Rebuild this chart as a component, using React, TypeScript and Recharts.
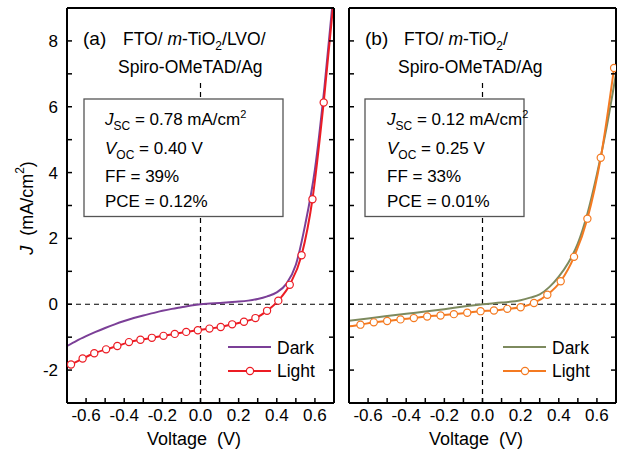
import React from 'react';
import { LineChart, Line, XAxis, YAxis, ReferenceLine } from 'recharts';

// ---------- data ----------
const darkA_V = [-0.70, -0.65, -0.60, -0.55, -0.50, -0.45, -0.40, -0.35, -0.30, -0.25, -0.20, -0.15, -0.10, -0.05, 0.00, 0.05, 0.10, 0.15, 0.20, 0.25, 0.30, 0.35, 0.40, 0.45, 0.50, 0.55, 0.60, 0.65, 0.70];
const darkA_J = [-1.27, -1.11, -0.97, -0.84, -0.72, -0.61, -0.51, -0.42, -0.34, -0.27, -0.20, -0.14, -0.09, -0.04, 0.00, 0.02, 0.04, 0.06, 0.08, 0.11, 0.16, 0.24, 0.36, 0.62, 1.20, 2.45, 4.10, 6.60, 9.60];

const lightA_V = [-0.679, -0.618, -0.557, -0.495, -0.436, -0.375, -0.315, -0.255, -0.194, -0.135, -0.075, -0.014, 0.047, 0.106, 0.166, 0.228, 0.288, 0.349, 0.408, 0.468, 0.530, 0.587, 0.646, 0.706];
const lightA_J = [-1.83, -1.65, -1.49, -1.37, -1.27, -1.15, -1.08, -1.02, -0.96, -0.90, -0.84, -0.79, -0.74, -0.69, -0.61, -0.53, -0.42, -0.20, 0.11, 0.59, 1.49, 3.19, 6.13, 9.70];

const darkB_V = [-0.70, -0.60, -0.50, -0.40, -0.30, -0.20, -0.10, 0.00, 0.10, 0.20, 0.25, 0.30, 0.35, 0.40, 0.45, 0.50, 0.55, 0.60, 0.65, 0.70];
const darkB_J = [-0.50, -0.43, -0.36, -0.29, -0.22, -0.15, -0.07, 0.00, 0.05, 0.12, 0.20, 0.30, 0.52, 0.84, 1.26, 1.85, 2.75, 3.95, 5.35, 7.00];

const lightB_V = [-0.70, -0.64, -0.57, -0.50, -0.43, -0.36, -0.29, -0.22, -0.15, -0.08, -0.01, 0.06, 0.13, 0.20, 0.27, 0.34, 0.41, 0.48, 0.55, 0.62, 0.69];
const lightB_J = [-0.67, -0.62, -0.55, -0.51, -0.46, -0.42, -0.37, -0.34, -0.30, -0.26, -0.21, -0.19, -0.14, -0.09, 0.04, 0.29, 0.70, 1.44, 2.60, 4.45, 7.18];

const xTicks = [-0.6, -0.5, -0.4, -0.3, -0.2, -0.1, 0, 0.1, 0.2, 0.3, 0.4, 0.5, 0.6];
const yTicks = [-2, -1, 0, 1, 2, 3, 4, 5, 6, 7, 8];
const xDomain = [-0.7, 0.7];
const yDomain = [-3, 9];

const panelA = { label: '(a)', jsc: '0.78', voc: '0.40', ff: '39%', pce: '0.12%' };
const panelB = { label: '(b)', jsc: '0.12', voc: '0.25', ff: '33%', pce: '0.01%' };

const zip = (v: number[], j: number[]) => v.map((V, i) => ({ V, J: j[i] }));

const COLORS = { darkA: '#7b3f97', lightA: '#ec1c24', darkB: '#7d8a5e', lightB: '#f47a21' };
const FONT = 'Liberation Sans, Arial, Helvetica, sans-serif';
const TICK = 5;

const isMajorX = (v: number) => Math.round(v * 10) % 2 === 0;
const isMajorY = (v: number) => Math.round(v) % 2 === 0;

const BottomTick = (p: any) => {
  const v = p.payload.value;
  return (
    <g>
      <line x1={p.x} y1={p.y} x2={p.x} y2={p.y - TICK} stroke="#000" strokeWidth={1.5} />
      {isMajorX(v) && (
        <text x={p.x} y={p.y + 18} textAnchor="middle" fontSize={17} fontFamily={FONT} fill="#000">
          {v.toFixed(1)}
        </text>
      )}
    </g>
  );
};
const TopTick = (p: any) => (
  <line x1={p.x} y1={p.y} x2={p.x} y2={p.y + TICK} stroke="#000" strokeWidth={1.5} />
);
const LeftTick = (showLabels: boolean) => (p: any) => {
  const v = p.payload.value;
  return (
    <g>
      <line x1={p.x} y1={p.y} x2={p.x + TICK} y2={p.y} stroke="#000" strokeWidth={1.5} />
      {showLabels && isMajorY(v) && (
        <text x={p.x - 9} y={p.y + 6} textAnchor="end" fontSize={17} fontFamily={FONT} fill="#000">
          {String(v)}
        </text>
      )}
    </g>
  );
};
const RightTick = (p: any) => (
  <line x1={p.x} y1={p.y} x2={p.x - TICK} y2={p.y} stroke="#000" strokeWidth={1.5} />
);

const makeDot = (color: string) => (p: any) => {
  const { cx, cy, payload, index } = p;
  if (payload.V < -0.695 || payload.J > 9 || payload.V > 0.7) return <g key={`d${index}`} />;
  return <circle key={`d${index}`} cx={cx} cy={cy} r={3.6} fill="#fff" stroke={color} strokeWidth={1.2} />;
};

function Panel({ width, leftW, marginRight, labels, dark, light, darkColor, lightColor }: any) {
  return (
    <LineChart width={width} height={451} margin={{ top: 7, right: marginRight, left: 0, bottom: 0 }}>
      <XAxis
        xAxisId="b"
        dataKey="V"
        type="number"
        domain={xDomain}
        allowDataOverflow
        ticks={xTicks}
        interval={0}
        tickSize={0}
        tickMargin={0}
        height={48}
        axisLine={{ stroke: '#000', strokeWidth: 2 }}
        tickLine={false}
        tick={BottomTick}
      />
      <XAxis
        xAxisId="t"
        orientation="top"
        type="number"
        domain={xDomain}
        allowDataOverflow
        ticks={xTicks}
        interval={0}
        tickSize={0}
        tickMargin={0}
        height={1}
        axisLine={{ stroke: '#000', strokeWidth: 2 }}
        tickLine={false}
        tick={TopTick}
      />
      <YAxis
        yAxisId="l"
        type="number"
        domain={yDomain}
        allowDataOverflow
        ticks={yTicks}
        interval={0}
        tickSize={0}
        tickMargin={0}
        width={leftW}
        axisLine={{ stroke: '#000', strokeWidth: 2 }}
        tickLine={false}
        tick={LeftTick(labels)}
      />
      <YAxis
        yAxisId="r"
        orientation="right"
        type="number"
        domain={yDomain}
        allowDataOverflow
        ticks={yTicks}
        interval={0}
        tickSize={0}
        tickMargin={0}
        width={1}
        axisLine={{ stroke: '#000', strokeWidth: 2 }}
        tickLine={false}
        tick={RightTick}
      />
      <ReferenceLine xAxisId="b" yAxisId="l" y={0} stroke="#000" strokeWidth={1.2} strokeDasharray="5 4" />
      <ReferenceLine
        xAxisId="b"
        yAxisId="l"
        segment={[{ x: 0, y: -3 }, { x: 0, y: 6.84 }]}
        stroke="#000"
        strokeWidth={1.2}
        strokeDasharray="5 4"
      />
      <Line
        xAxisId="b"
        yAxisId="l"
        data={dark}
        dataKey="J"
        type="monotone"
        stroke={darkColor}
        strokeWidth={2}
        dot={false}
        isAnimationActive={false}
      />
      <Line
        xAxisId="b"
        yAxisId="l"
        data={light}
        dataKey="J"
        type="monotone"
        stroke={lightColor}
        strokeWidth={2}
        dot={makeDot(lightColor)}
        isAnimationActive={false}
      />
    </LineChart>
  );
}

function Annot({ p, x0, titleX, line1, spiroX, boxX, boxW, textX, legX, darkColor, lightColor }: any) {
  return (
    <g fontFamily={FONT} fill="#000">
      <text x={x0} y={45} fontSize={19}>{p.label}</text>
      <text x={titleX} y={45} fontSize={17.5}>
        FTO/ <tspan fontStyle="italic">m</tspan>-TiO<tspan fontSize={12} dy={5}>2</tspan>
        <tspan dy={-5}>{line1}</tspan>
      </text>
      <text x={spiroX} y={72.5} fontSize={17.5}>Spiro-OMeTAD/Ag</text>
      <rect x={boxX} y={99} width={boxW} height={117.5} fill="#fff" stroke="#555" strokeWidth={1.3} />
      <text x={textX} y={124.5} fontSize={17}>
        <tspan fontStyle="italic">J</tspan>
        <tspan fontSize={12} dy={5}>SC</tspan>
        <tspan dy={-5}>{` = ${p.jsc} mA/cm`}</tspan>
        <tspan fontSize={11} dy={-7}>2</tspan>
      </text>
      <text x={textX} y={153.5} fontSize={17}>
        <tspan fontStyle="italic">V</tspan>
        <tspan fontSize={12} dy={5}>OC</tspan>
        <tspan dy={-5}>{` = ${p.voc} V`}</tspan>
      </text>
      <text x={textX} y={181.5} fontSize={17}>{`FF = ${p.ff}`}</text>
      <text x={textX} y={206.5} fontSize={17}>{`PCE = ${p.pce}`}</text>
      <line x1={legX} y1={347} x2={legX + 43} y2={347} stroke={darkColor} strokeWidth={2.2} />
      <text x={legX + 49} y={354} fontSize={17.5}>Dark</text>
      <line x1={legX} y1={371} x2={legX + 43} y2={371} stroke={lightColor} strokeWidth={2.2} />
      <circle cx={legX + 22} cy={371} r={3.6} fill="#fff" stroke={lightColor} strokeWidth={1.2} />
      <text x={legX + 49} y={376.5} fontSize={17.5}>Light</text>
    </g>
  );
}

export default function App() {
  return (
    <div style={{ position: 'absolute', left: 0, top: 0, width: 618, height: 451, background: '#fff' }}>
      <div style={{ position: 'absolute', left: 0, top: 0 }}>
        <Panel
          width={340}
          leftW={67}
          marginRight={5}
          labels={true}
          dark={zip(darkA_V, darkA_J)}
          light={zip(lightA_V, lightA_J)}
          darkColor={COLORS.darkA}
          lightColor={COLORS.lightA}
        />
      </div>
      <div style={{ position: 'absolute', left: 340, top: 0 }}>
        <Panel
          width={278}
          leftW={9}
          marginRight={1}
          labels={false}
          dark={zip(darkB_V, darkB_J)}
          light={zip(lightB_V, lightB_J)}
          darkColor={COLORS.darkB}
          lightColor={COLORS.lightB}
        />
      </div>
      <svg width={618} height={451} style={{ position: 'absolute', left: 0, top: 0, pointerEvents: 'none' }}>
        <Annot p={panelA} x0={83} titleX={123} line1="/LVO/" spiroX={118} boxX={84} boxW={199} textX={105} legX={228}
          darkColor={COLORS.darkA} lightColor={COLORS.lightA} />
        <Annot p={panelB} x0={365} titleX={404} line1="/" spiroX={398} boxX={365} boxW={159} textX={387} legX={503}
          darkColor={COLORS.darkB} lightColor={COLORS.lightB} />
        <text x={27} y={208} transform="rotate(-90 27 208)" textAnchor="middle" dominantBaseline="central"
          fontSize={18} fontFamily={FONT}>
          <tspan fontStyle="italic">J</tspan>
          <tspan style={{ whiteSpace: 'pre' }}>{'  (mA/cm'}</tspan>
          <tspan fontSize={12} dy={-7}>2</tspan>
          <tspan dy={7}>)</tspan>
        </text>
        <text x={194} y={445} textAnchor="middle" fontSize={18} fontFamily={FONT} style={{ whiteSpace: 'pre' }}>
          Voltage  (V)
        </text>
        <text x={476} y={445} textAnchor="middle" fontSize={18} fontFamily={FONT} style={{ whiteSpace: 'pre' }}>
          Voltage  (V)
        </text>
      </svg>
    </div>
  );
}
